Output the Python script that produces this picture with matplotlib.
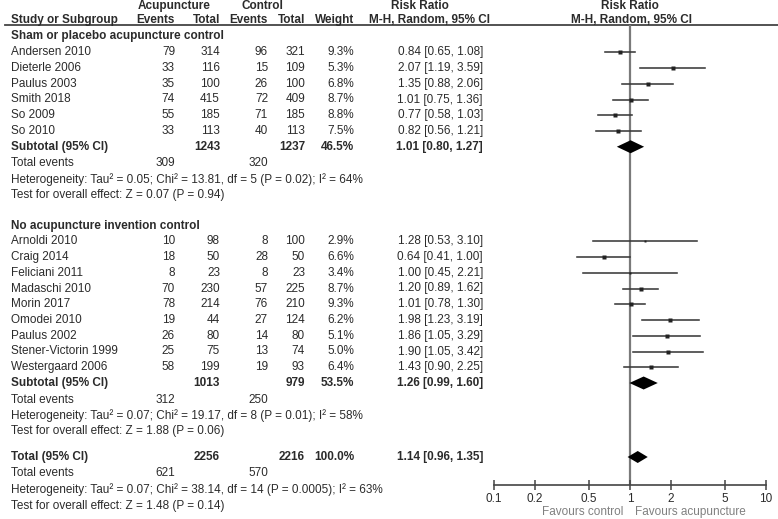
import matplotlib
matplotlib.use("Agg")
import matplotlib.pyplot as plt
import numpy as np

plt.rcParams['font.family'] = ['Liberation Sans', 'DejaVu Sans']

# ---------------- data ----------------
g1_name = "Sham or placebo acupuncture control"
g1_studies = ["Andersen 2010", "Dieterle 2006", "Paulus 2003", "Smith 2018", "So 2009", "So 2010"]
g1_ev_a = [79, 33, 35, 74, 55, 33]
g1_tot_a = [314, 116, 100, 415, 185, 113]
g1_ev_c = [96, 15, 26, 72, 71, 40]
g1_tot_c = [321, 109, 100, 409, 185, 113]
g1_w = [9.3, 5.3, 6.8, 8.7, 8.8, 7.5]
g1_rr = [0.84, 2.07, 1.35, 1.01, 0.77, 0.82]
g1_lo = [0.65, 1.19, 0.88, 0.75, 0.58, 0.56]
g1_hi = [1.08, 3.59, 2.06, 1.36, 1.03, 1.21]
g1_sub = dict(tot_a=1243, tot_c=1237, w=46.5, rr=1.01, lo=0.80, hi=1.27, ev_a=309, ev_c=320,
              het="Heterogeneity: Tau² = 0.05; Chi² = 13.81, df = 5 (P = 0.02); I² = 64%",
              test="Test for overall effect: Z = 0.07 (P = 0.94)")

g2_name = "No acupuncture invention control"
g2_studies = ["Arnoldi 2010", "Craig 2014", "Feliciani 2011", "Madaschi 2010", "Morin 2017",
              "Omodei 2010", "Paulus 2002", "Stener-Victorin 1999", "Westergaard 2006"]
g2_ev_a = [10, 18, 8, 70, 78, 19, 26, 25, 58]
g2_tot_a = [98, 50, 23, 230, 214, 44, 80, 75, 199]
g2_ev_c = [8, 28, 8, 57, 76, 27, 14, 13, 19]
g2_tot_c = [100, 50, 23, 225, 210, 124, 80, 74, 93]
g2_w = [2.9, 6.6, 3.4, 8.7, 9.3, 6.2, 5.1, 5.0, 6.4]
g2_rr = [1.28, 0.64, 1.00, 1.20, 1.01, 1.98, 1.86, 1.90, 1.43]
g2_lo = [0.53, 0.41, 0.45, 0.89, 0.78, 1.23, 1.05, 1.05, 0.90]
g2_hi = [3.10, 1.00, 2.21, 1.62, 1.30, 3.19, 3.29, 3.42, 2.25]
g2_sub = dict(tot_a=1013, tot_c=979, w=53.5, rr=1.26, lo=0.99, hi=1.60, ev_a=312, ev_c=250,
              het="Heterogeneity: Tau² = 0.07; Chi² = 19.17, df = 8 (P = 0.01); I² = 58%",
              test="Test for overall effect: Z = 1.88 (P = 0.06)")

overall = dict(tot_a=2256, tot_c=2216, w=100.0, rr=1.14, lo=0.96, hi=1.35, ev_a=621, ev_c=570,
               het="Heterogeneity: Tau² = 0.07; Chi² = 38.14, df = 14 (P = 0.0005); I² = 63%",
               test="Test for overall effect: Z = 1.48 (P = 0.14)")

xticks = [0.1, 0.2, 0.5, 1, 2, 5, 10]
xticklabels = ["0.1", "0.2", "0.5", "1", "2", "5", "10"]

# ---------------- layout ----------------
W, H = 778, 519
fig = plt.figure(figsize=(W / 100, H / 100), dpi=100)
ax = fig.add_axes([0, 0, 1, 1])
ax.set_xlim(0, W)
ax.set_ylim(H, 0)
ax.axis('off')

TXT = '#2b2b2b'
FS = 8.45
top, step = 36.5, 15.75

def ry(i):
    return top + i * step

X_NAME, X_EA, X_TA, X_EC, X_TC, X_W, X_RR = 11, 175, 220, 268, 305, 354, 483
F_L, F_R, F_B, F_T = 494, 766, 485, 25

def t(x, y, s, ha='left', bold=False, color=TXT, size=FS):
    ax.text(x, y, s, ha=ha, va='center', fontsize=size, color=color,
            fontweight='bold' if bold else 'normal')

# headers
t(174, 6, "Acupuncture", ha='center', bold=True)
t(262, 6, "Control", ha='center', bold=True)
t(420, 6, "Risk Ratio", ha='center', bold=True)
t(630, 6, "Risk Ratio", ha='center', bold=True)
t(X_NAME, 20, "Study or Subgroup", bold=True)
t(X_EA, 20, "Events", ha='right', bold=True)
t(X_TA, 20, "Total", ha='right', bold=True)
t(X_EC, 20, "Events", ha='right', bold=True)
t(X_TC, 20, "Total", ha='right', bold=True)
t(X_W, 20, "Weight", ha='right', bold=True)
t(430, 20, "M-H, Random, 95% CI", ha='center', bold=True)
t(632, 20, "M-H, Random, 95% CI", ha='center', bold=True)
ax.plot([5, W], [F_T, F_T], color='#444444', lw=1.3)

# forest axes
fax = fig.add_axes([F_L / W, (H - F_B) / H, (F_R - F_L) / W, (F_B - F_T) / H])
fax.set_xscale('log')
fax.set_xlim(0.1, 10)
fax.set_ylim(F_B, F_T)
fax.patch.set_alpha(0)
for s in ['top', 'left', 'right']:
    fax.spines[s].set_visible(False)
fax.spines['bottom'].set_color('#444444')
fax.spines['bottom'].set_linewidth(1.2)
fax.set_yticks([])
fax.set_xticks(xticks)
fax.set_xticklabels(xticklabels)
fax.minorticks_off()
fax.tick_params(axis='x', direction='inout', length=7, width=1.1, color='#444444',
                labelsize=FS, labelcolor=TXT, pad=2)
fax.axvline(1, color='#7a7a7a', lw=1.6, zorder=1)

def study_row(y, name, ea, ta, ec, tc, w, rr, lo, hi):
    t(X_NAME, y, name)
    t(X_EA, y, str(ea), ha='right')
    t(X_TA, y, str(ta), ha='right')
    t(X_EC, y, str(ec), ha='right')
    t(X_TC, y, str(tc), ha='right')
    t(X_W, y, f"{w:.1f}%", ha='right')
    t(X_RR, y, f"{rr:.2f} [{lo:.2f}, {hi:.2f}]", ha='right')
    fax.plot([lo, hi], [y, y], color='#3a3a3a', lw=1.15, zorder=2, clip_on=False)
    side_px = 1.45 * np.sqrt(w)
    fax.plot([rr], [y], marker='s', ms=side_px * 0.72, color='#222222', mec='none',
             zorder=3, clip_on=False)

def diamond(y, rr, lo, hi, half):
    fax.fill([lo, rr, hi, rr], [y, y - half, y, y + half], color='black', zorder=3,
             clip_on=False, lw=0)

def summary(y, lab, d, half):
    t(X_NAME, y, lab, bold=True)
    t(X_TA, y, str(d['tot_a']), ha='right', bold=True)
    t(X_TC, y, str(d['tot_c']), ha='right', bold=True)
    t(X_W, y, f"{d['w']:.1f}%", ha='right', bold=True)
    t(X_RR, y, f"{d['rr']:.2f} [{d['lo']:.2f}, {d['hi']:.2f}]", ha='right', bold=True)
    diamond(y, d['rr'], d['lo'], d['hi'], half)

def totals(i0, d, yfun):
    t(X_NAME, yfun(i0), "Total events")
    t(X_EA, yfun(i0), str(d['ev_a']), ha='right')
    t(X_EC, yfun(i0), str(d['ev_c']), ha='right')
    t(X_NAME, yfun(i0 + 1), d['het'])
    t(X_NAME, yfun(i0 + 2), d['test'])

# group 1
t(X_NAME, ry(0), g1_name, bold=True)
for k in range(len(g1_studies)):
    study_row(ry(1 + k), g1_studies[k], g1_ev_a[k], g1_tot_a[k], g1_ev_c[k], g1_tot_c[k],
              g1_w[k], g1_rr[k], g1_lo[k], g1_hi[k])
n1 = 1 + len(g1_studies)
summary(ry(n1), "Subtotal (95% CI)", g1_sub, 6.5)
totals(n1 + 1, g1_sub, lambda i: ry(i) + 1)

# group 2
s2 = n1 + 5
t(X_NAME, ry(s2), g2_name, bold=True)
for k in range(len(g2_studies)):
    study_row(ry(s2 + 1 + k), g2_studies[k], g2_ev_a[k], g2_tot_a[k], g2_ev_c[k], g2_tot_c[k],
              g2_w[k], g2_rr[k], g2_lo[k], g2_hi[k])
n2 = s2 + 1 + len(g2_studies)
summary(ry(n2), "Subtotal (95% CI)", g2_sub, 6.5)
totals(n2 + 1, g2_sub, lambda i: ry(i) + 1)

# overall
yt = ry(n2 + 4) + 11
summary(yt, "Total (95% CI)", overall, 6)
totals(1, overall, lambda i: yt + i * 16.3)

# favours labels
ax.text(623, 512, "Favours control", ha='right', va='center', fontsize=FS, color='#808080')
ax.text(635, 512, "Favours acupuncture", ha='left', va='center', fontsize=FS, color='#808080')

fig.savefig("out.png", dpi=100)
